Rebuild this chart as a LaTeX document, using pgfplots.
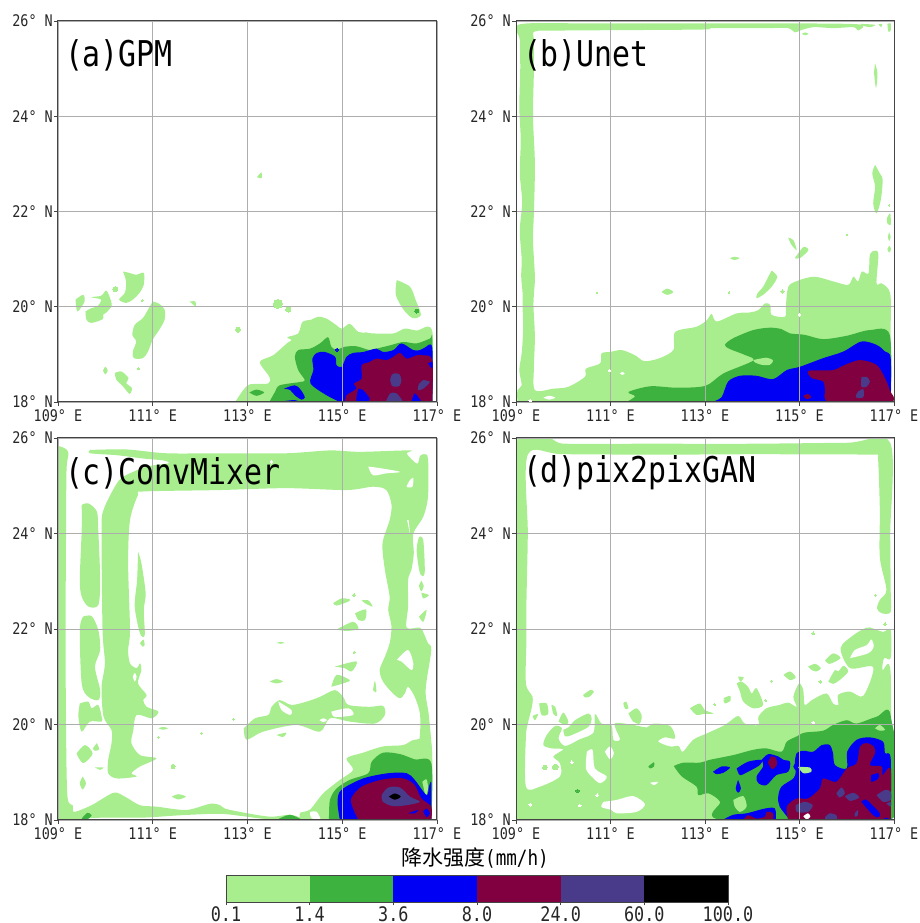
\documentclass[border=0pt]{standalone}
\usepackage{fontspec}
\usepackage{pgfplots}
\pgfplotsset{compat=1.18}
\newfontfamily\hei[FakeStretch=0.84]{DejaVu Sans Mono}
\newfontfamily\cjk{Noto Sans CJK SC}
\definecolor{cL}{HTML}{A8EE8E}
\definecolor{cG}{HTML}{3EB23E}
\definecolor{cB}{HTML}{0000F5}
\definecolor{cM}{HTML}{800040}
\definecolor{cP}{HTML}{4A3A8A}
\definecolor{cK}{HTML}{000000}
\definecolor{sp}{HTML}{444444}
\pgfplotsset{
 pol/.style={draw=none,forget plot,mark=none,smooth,tension=0.5},
 L/.style={pol,fill=cL},G/.style={pol,fill=cG},B/.style={pol,fill=cB},
 M/.style={pol,fill=cM},P/.style={pol,fill=cP},W/.style={pol,fill=white},K/.style={pol,fill=cK},
 dL/.style={only marks,mark=*,mark size=#1,color=cL,mark options={fill=cL,draw=cL,line width=0pt},forget plot},
 dW/.style={only marks,mark=*,mark size=#1,color=white,mark options={fill=white,draw=white,line width=0pt},forget plot},
 dG/.style={only marks,mark=*,mark size=#1,color=cG,mark options={fill=cG,draw=cG,line width=0pt},forget plot},
 dB/.style={only marks,mark=*,mark size=#1,color=cB,mark options={fill=cB,draw=cB,line width=0pt},forget plot},
 mapax/.style={scale only axis,xmin=109,xmax=117,ymin=18,ymax=26,axis on top,
  xtick={109,111,113,115,117},ytick={18,20,22,24,26},
  xticklabels={109° E,111° E,113° E,115° E,117° E},
  yticklabels={18° N,20° N,22° N,24° N,26° N},
  grid=major,grid style={color=black!32,line width=0.75pt},
  axis line style={color=sp,line width=1pt},
  tick style={color=sp,line width=0.8pt},tick align=outside,major tick length=4pt,
  xtick pos=lower,ytick pos=left,
  ticklabel style={font=\hei\fontsize{16}{16}\selectfont,color=black!85,inner sep=0pt},
  xticklabel style={yshift=-3.5pt,text height=12pt,text depth=0pt},
  yticklabel style={xshift=-1pt},
  title style={at={(0.018,0.893)},anchor=west,font=\hei\fontsize{35.5}{35.5}\selectfont,inner sep=0pt},
 },
}
\begin{document}
\begin{tikzpicture}[x=1pt,y=1pt]
\useasboundingbox (0,0) rectangle (920,923);
% ================ (a)
\begin{axis}[mapax,at={(58pt,521pt)},anchor=south west,width=379pt,height=381pt,title={(a)GPM}]
\addplot[L] coordinates {(111.0,20.11)(111.14,20.06)(111.25,19.94)(111.25,19.73)(111.14,19.52)(111.0,19.31)(110.90,19.06)(110.79,18.92)(110.60,18.92)(110.58,19.06)(110.65,19.27)(110.57,19.41)(110.62,19.62)(110.79,19.76)(110.90,19.94)(111.0,20.11)};
\addplot[L] coordinates {(110.37,20.74)(110.51,20.71)(110.65,20.67)(110.81,20.71)(110.81,20.46)(110.72,20.29)(110.58,20.15)(110.44,20.08)(110.29,20.15)(110.41,20.29)(110.44,20.50)(110.41,20.64)(110.37,20.74)};
\addplot[L] coordinates {(109.58,19.90)(109.70,19.97)(109.83,20.01)(109.91,20.15)(109.70,20.20)(109.91,20.23)(110.02,20.34)(110.11,20.15)(110.13,20.01)(110.02,19.88)(109.95,19.83)(109.95,19.74)(109.70,19.66)(109.60,19.73)(109.58,19.90)};
\addplot[L] coordinates {(109.37,20.15)(109.53,20.25)(109.56,20.11)(109.41,19.90)(109.37,20.15)};
\addplot[L] coordinates {(111.78,20.11)(111.90,20.11)(111.90,20.01)(111.78,20.11)};
\addplot[L] coordinates {(113.20,22.72)(113.29,22.82)(113.30,22.70)(113.20,22.72)};
\addplot[L] coordinates {(110.20,18.61)(110.34,18.64)(110.49,18.50)(110.44,18.40)(110.56,18.29)(110.51,18.17)(110.37,18.33)(110.23,18.47)(110.20,18.61)};
\addplot[L] coordinates {(109.95,18.66)(110.0,18.74)(110.05,18.66)(110.0,18.58)(109.95,18.66)};
\addplot[dL=2.5pt] coordinates {(110.21,20.37)};
\addplot[dL=1pt] coordinates {(110.78,20.13)(110.70,18.70)};
\addplot[dL=2.5pt] coordinates {(112.80,19.52)};
\addplot[dL=4.5pt] coordinates {(113.64,20.06)};
\addplot[dL=2.5pt] coordinates {(113.86,19.94)};
\addplot[L] coordinates {(116.15,20.56)(116.43,20.42)(116.55,20.14)(116.66,19.83)(116.49,19.76)(116.30,19.93)(116.13,20.25)(116.15,20.56)};
\addplot[dG=2pt] coordinates {(116.57,19.91)};
\addplot[L] coordinates {(112.74,18.0)(112.91,18.25)(113.05,18.37)(113.44,18.39)(113.46,18.53)(113.26,18.84)(113.54,18.98)(113.83,19.23)(113.93,19.30)(113.84,19.36)(114.07,19.44)(114.16,19.68)(114.35,19.73)(114.49,19.79)(114.67,19.75)(114.88,19.61)(114.99,19.54)(115.16,19.64)(115.34,19.47)(115.51,19.46)(115.65,19.44)(116.08,19.44)(116.32,19.54)(116.57,19.50)(116.90,19.49)(116.90,18.0)};
\addplot[G] coordinates {(113.46,18.0)(113.58,18.21)(113.68,18.35)(114.11,18.42)(114.21,18.46)(114.07,18.67)(114.00,18.95)(114.07,19.09)(114.32,19.12)(114.53,19.23)(114.70,19.36)(114.77,19.16)(114.88,19.10)(115.06,19.16)(115.30,19.17)(115.58,19.09)(115.72,19.12)(116.01,19.19)(116.29,19.26)(116.57,19.23)(116.85,19.33)(116.90,19.33)(116.90,18.0)};
\addplot[G] coordinates {(113.04,18.20)(113.19,18.26)(113.35,18.20)(113.19,18.13)(113.04,18.20)};
\addplot[B] coordinates {(114.95,18)(114.67,18.14)(114.33,18.39)(114.39,18.67)(114.37,18.91)(114.46,19.03)(114.63,19.05)(114.85,18.95)(114.88,18.77)(114.99,18.74)(115.09,18.95)(115.23,19.03)(115.44,19.05)(115.72,19.12)(115.86,19.05)(116.08,19.09)(116.25,19.23)(116.50,19.09)(116.64,19.09)(116.74,19.14)(116.90,19.14)(116.90,18)};
\addplot[B] coordinates {(113.77,18.28)(114.0,18.35)(114.12,18.26)(114.21,18.10)(114.14,18.05)(114.0,18.14)(113.90,18.25)(113.77,18.28)};
\addplot[B] coordinates {(113.79,18.0)(113.79,18.02)(114.0,18.04)(114.11,18.0)};
\addplot[dB=1.5pt] coordinates {(114.89,19.10)};
\addplot[M] coordinates {(115.06,18)(115.09,18.14)(115.30,18.28)(115.25,18.39)(115.41,18.49)(115.41,18.77)(115.58,18.84)(115.72,18.91)(115.94,18.88)(116.08,18.95)(116.22,19.03)(116.36,18.91)(116.57,18.98)(116.71,18.98)(116.90,18.88)(116.90,18)};
\addplot[B] coordinates {(115.34,18.28)(115.44,18.25)(115.58,18.07)(115.51,18)(115.30,18)(115.34,18.28)};
\addplot[B] coordinates {(116.46,18)(116.53,18.18)(116.65,18.04)(116.67,18)};
\addplot[B] coordinates {(116.81,18.81)(116.90,18.84)(116.90,18.70)(116.81,18.81)};
\addplot[P] coordinates {(116.01,18.46)(116.05,18.58)(116.13,18.60)(116.21,18.58)(116.25,18.46)(116.21,18.34)(116.13,18.32)(116.05,18.34)(116.01,18.46)};
\addplot[P] coordinates {(116.71,18.46)(116.85,18.42)(116.71,18.28)(116.60,18.25)(116.62,18.38)(116.71,18.46)};
\addplot[P] coordinates {(115.92,18)(116.01,18.18)(116.15,18.18)(116.29,18)};
\end{axis}
% ================ (b)
\begin{axis}[mapax,at={(516pt,521pt)},anchor=south west,width=378pt,height=381pt,title={(b)Unet}]
\addplot[L] coordinates {(109.03,18.0)(109.03,18.25)(109.12,18.35)(109.07,18.67)(109.12,19.02)(109.15,19.51)(109.14,20.0)(109.14,20.28)(109.11,20.63)(109.12,21)(109.08,21.6)(109.13,22.2)(109.08,22.8)(109.10,23.5)(109.07,24.2)(109.09,25)(109.08,25.6)(109.08,25.93)(110.5,25.95)(112.5,25.95)(114.5,25.95)(116.25,25.93)(116.24,25.80)(116.14,25.87)(115.72,25.85)(115.29,25.87)(115.01,25.80)(114.90,25.76)(114.76,25.85)(114.30,25.85)(113.60,25.85)(113.10,25.85)(112.89,25.82)(110,25.80)(109.4,25.78)(109.38,25.6)(109.38,25)(109.36,24)(109.4,23)(109.38,22)(109.36,21.4)(109.40,20.63)(109.38,20.28)(109.37,20.0)(109.40,19.37)(109.38,18.74)(109.40,18.25)(109.79,18.28)(110.11,18.32)(110.46,18.53)(110.48,18.70)(110.78,18.81)(110.81,19.02)(110.99,19.05)(111.24,19.09)(111.52,18.98)(111.71,18.86)(112.01,18.91)(112.33,19.09)(112.37,19.47)(112.82,19.58)(113.04,19.72)(113.14,19.85)(113.25,19.69)(113.67,19.86)(113.95,19.88)(114.13,19.93)(114.27,20.07)(114.38,20.04)(114.41,19.83)(114.69,19.79)(114.71,19.97)(114.74,20.32)(114.83,20.49)(115.29,20.63)(115.72,20.53)(116.03,20.46)(116.14,20.63)(116.24,20.53)(116.32,20.74)(116.46,20.70)(116.49,21.09)(116.60,21.18)(116.67,21.09)(116.63,20.49)(116.74,20.49)(116.92,20.28)(116.93,19.51)(116.93,18.0)};
\addplot[W] coordinates {(111.2,18.6)(111.25,18.63)(111.3,18.6)(111.25,18.57)(111.2,18.6)};
\addplot[W] coordinates {(109.58,18.09)(109.7,18.13)(109.83,18.09)(109.7,18.05)(109.58,18.09)};
\addplot[dW=1.3pt] coordinates {(115.0,19.83)(109.3,18.03)(110.98,18.66)};
\addplot[L] coordinates {(116.60,25.11)(116.65,24.90)(116.62,24.59)(116.58,24.90)(116.60,25.11)};
\addplot[L] coordinates {(116.60,22.98)(116.70,22.80)(116.76,22.66)(116.72,22.24)(116.63,21.96)(116.56,22.17)(116.60,22.52)(116.54,22.80)(116.60,22.98)};
\addplot[L] coordinates {(116.85,21.86)(116.92,21.96)(116.93,21.72)(116.86,21.75)(116.85,21.86)};
\addplot[L] coordinates {(116.90,21.56)(116.93,21.47)(116.90,21.38)(116.87,21.47)(116.90,21.56)};
\addplot[L] coordinates {(116.90,21.28)(116.94,21.21)(116.90,21.14)(116.86,21.21)(116.90,21.28)};
\addplot[L] coordinates {(114.76,21.45)(114.87,21.40)(114.94,21.19)(114.83,21.30)(114.76,21.45)};
\addplot[L] coordinates {(114.90,21.02)(115.08,21.25)(115.19,21.19)(115.01,21.02)(114.90,21.02)};
\addplot[L] coordinates {(113.53,21.02)(113.62,21.05)(113.73,21.02)(113.62,20.98)(113.53,21.02)};
\addplot[L] coordinates {(114.41,20.76)(114.53,20.63)(114.41,20.42)(114.23,20.25)(114.09,20.18)(114.11,20.28)(114.23,20.42)(114.34,20.63)(114.41,20.76)};
\addplot[dL=1.8pt] coordinates {(114.64,20.32)};
\addplot[dL=0.7pt] coordinates {(116.0,21.51)(116.90,22.13)(110.72,20.29)(113.51,20.3)};
\addplot[L] coordinates {(116.28,25.94)(116.60,25.92)(116.49,25.87)(116.35,25.90)(116.28,25.94)};
\addplot[L] coordinates {(116.67,25.93)(116.75,25.94)(116.73,25.87)(116.67,25.93)};
\addplot[L] coordinates {(116.86,25.94)(116.93,25.95)(116.93,25.80)(116.88,25.78)(116.86,25.94)};
\addplot[L] coordinates {(115.05,25.73)(115.12,25.76)(115.19,25.73)(115.12,25.70)(115.05,25.73)};
\addplot[L] coordinates {(112.08,20.31)(112.2,20.38)(112.33,20.31)(112.2,20.25)(112.08,20.31)};
\addplot[G] coordinates {(111.34,18.0)(111.52,18.12)(111.38,18.21)(111.84,18.33)(112.40,18.30)(113.01,18.34)(113.39,18.60)(114.02,18.87)(113.84,18.99)(113.53,19.11)(113.42,19.2)(113.60,19.34)(114.02,19.51)(114.37,19.56)(114.62,19.53)(114.80,19.44)(115.11,19.41)(115.50,19.32)(116.0,19.39)(116.49,19.51)(116.91,19.41)(116.93,18)};
\addplot[L] coordinates {(114.02,18.88)(114.30,18.93)(114.44,18.87)(114.37,18.78)(114.20,18.78)(114.06,18.83)(114.02,18.88)};
\addplot[B] coordinates {(113.14,18)(113.35,18.10)(113.49,18.43)(113.74,18.55)(114.09,18.55)(114.44,18.48)(114.73,18.67)(115.01,18.74)(115.50,18.92)(115.93,19.06)(116.31,19.27)(116.63,19.20)(116.81,19.06)(116.93,18.92)(116.93,18)};
\addplot[M] coordinates {(115.18,18.60)(115.22,18.66)(115.71,18.67)(115.96,18.78)(116.28,18.88)(116.63,18.78)(116.81,18.50)(116.91,18.25)(116.93,18.0)(115.64,18.0)(115.54,18.25)(115.50,18.43)(115.26,18.50)(115.18,18.60)};
\addplot[M] coordinates {(115.08,18.13)(115.18,18.17)(115.25,18.10)(115.15,18.06)(115.08,18.13)};
\addplot[P] coordinates {(116.31,18.52)(116.42,18.53)(116.49,18.43)(116.42,18.32)(116.31,18.32)(116.31,18.52)};
\addplot[P] coordinates {(116.24,18.22)(116.35,18.27)(116.35,18.10)(116.19,18.10)(116.24,18.22)};
\end{axis}
% ================ (c)
\begin{axis}[mapax,at={(58pt,103pt)},anchor=south west,width=379pt,height=382pt,title={(c)ConvMixer}]
\addplot[L] coordinates {(109.02,25.83)(109.15,25.78)(109.22,25.68)(109.18,25.33)(109.17,24.07)(109.16,21.98)(109.17,19.88)(109.20,18.49)(109.31,18.31)(109.34,18.17)(109.71,18.31)(110.17,18.57)(110.41,18.49)(110.73,18.31)(111.08,18.28)(111.71,18.21)(112.21,18.34)(112.42,18.31)(112.52,18.24)(112.84,18.17)(113.47,18.07)(113.89,18.11)(114.14,18.04)(114.18,18.0)(113.4,18.02)(112.9,18.08)(112.4,18.13)(111.6,18.1)(110.8,18.05)(110,18.05)(109.5,18.03)(109.4,18)(109.02,18)};
\addplot[L] coordinates {(109.68,25.75)(110.45,25.76)(111.29,25.68)(112.42,25.68)(113.82,25.68)(114.74,25.74)(115.37,25.71)(116.43,25.74)(116.36,25.67)(116.58,25.46)(116.64,25.62)(116.72,25.66)(116.81,25.57)(116.81,24.77)(116.71,24.35)(116.50,24.0)(116.51,23.58)(116.46,23.24)(116.39,23.03)(116.39,22.47)(116.36,22.03)(116.64,22.03)(116.72,21.91)(116.81,21.70)(116.88,21.56)(116.76,20.72)(116.83,20.17)(116.89,19.19)(116.57,19.19)(116.64,19.78)(116.64,20.23)(116.53,20.58)(116.39,20.79)(116.32,20.65)(116.22,20.55)(116.07,20.65)(115.86,20.90)(115.79,21.14)(115.90,21.42)(116.0,21.70)(116.04,22.05)(115.97,22.40)(116.0,22.68)(115.90,23.24)(115.85,23.79)(116.0,24.28)(116.04,24.60)(115.93,24.91)(115.65,24.98)(115.09,24.91)(113.82,24.95)(112.42,24.91)(110.80,24.88)(110.69,24.81)(110.52,24.28)(110.48,23.38)(110.52,21.98)(110.48,21.56)(110.52,21.28)(110.66,21.18)(110.73,21.28)(110.76,21.14)(110.69,20.86)(110.87,20.62)(110.80,20.51)(110.87,20.37)(111.12,20.27)(110.98,20.13)(110.66,20.20)(110.59,19.88)(110.55,19.61)(110.73,19.36)(111.08,19.29)(110.73,19.12)(110.55,18.98)(110.66,18.91)(110.24,18.87)(110.06,18.98)(110.06,19.26)(110.13,19.61)(110.13,19.88)(109.96,20.17)(109.92,20.79)(109.99,21.28)(109.94,21.98)(109.92,24.07)(109.96,24.49)(110.20,24.98)(110.38,25.19)(110.87,25.40)(111.33,25.47)(111.22,25.53)(110.80,25.57)(110.24,25.64)(109.68,25.68)(109.68,25.75)};
\addplot[W] coordinates {(115.55,25.40)(115.79,25.37)(116.22,25.29)(115.93,25.26)(115.65,25.22)(115.55,25.40)};
\addplot[W] coordinates {(116.43,25.12)(116.50,25.16)(116.48,24.98)(116.36,24.98)(116.43,25.12)};
\addplot[W] coordinates {(116.15,21.35)(116.39,21.56)(116.50,21.28)(116.46,21.14)(116.25,21.32)(116.15,21.35)};
\addplot[W] coordinates {(116.37,24.28)(116.43,24.0)(116.40,24.28)};
\addplot[W] coordinates {(110.58,21.0)(110.62,21.08)(110.66,21.0)(110.62,20.9)(110.58,21.0)};
\addplot[dW=1.3pt] coordinates {(113.51,25.5)};
\addplot[L] coordinates {(109.50,24.60)(109.64,24.63)(109.82,24.46)(109.85,24.07)(109.89,23.03)(109.85,22.50)(109.64,22.47)(109.50,22.68)(109.46,23.03)(109.50,24.07)(109.50,24.60)};
\addplot[L] coordinates {(109.53,22.26)(109.71,22.27)(109.85,21.98)(109.89,21.56)(109.78,21.21)(109.89,20.72)(109.85,20.51)(109.64,20.58)(109.50,20.86)(109.46,21.98)(109.53,22.26)};
\addplot[L] coordinates {(109.46,20.44)(109.64,20.48)(109.71,20.34)(109.85,20.41)(109.92,20.17)(109.92,20.06)(109.67,20.06)(109.50,19.85)(109.43,20.17)(109.46,20.44)};
\addplot[L] coordinates {(109.39,19.39)(109.57,19.57)(109.73,19.39)(109.53,19.19)(109.39,19.39)};
\addplot[L] coordinates {(109.82,19.61)(109.87,19.48)(109.78,19.45)(109.74,19.50)(109.82,19.61)};
\addplot[L] coordinates {(109.52,18.91)(109.59,18.77)(109.52,18.64)(109.46,18.77)(109.52,18.91)};
\addplot[L] coordinates {(109.78,19.10)(109.96,19.10)(109.89,19.05)(109.78,19.10)};
\addplot[L] coordinates {(110.69,23.62)(110.76,23.38)(110.85,22.75)(110.81,22.40)(110.83,21.87)(110.73,21.91)(110.62,22.47)(110.67,23.03)(110.69,23.62)};
\addplot[L] coordinates {(110.73,21.70)(110.80,21.78)(110.83,21.67)(110.79,21.63)(110.73,21.70)};
\addplot[L] coordinates {(111.12,19.92)(111.22,19.95)(111.32,19.92)(111.22,19.89)(111.12,19.92)};
\addplot[dL=0.8pt] coordinates {(112.03,19.81)(111.12,19.73)};
\addplot[dL=2pt] coordinates {(111.43,19.12)};
\addplot[L] coordinates {(111.40,18.49)(111.54,18.54)(111.70,18.49)(111.54,18.43)(111.40,18.49)};
\addplot[L] coordinates {(116.62,23.93)(116.71,23.86)(116.74,23.17)(116.64,23.17)(116.57,23.65)(116.62,23.93)};
\addplot[L] coordinates {(116.67,23.01)(116.72,22.9)(116.67,22.79)(116.62,22.9)(116.67,23.01)};
\addplot[L] coordinates {(116.67,22.76)(116.83,22.71)(116.71,22.64)(116.67,22.76)};
\addplot[L] coordinates {(116.62,22.26)(116.78,22.40)(116.71,22.15)(116.62,22.26)};
\addplot[L] coordinates {(114.81,22.54)(114.98,22.64)(115.16,22.62)(115.12,22.57)(114.88,22.49)(114.81,22.54)};
\addplot[dL=1.5pt] coordinates {(115.25,22.71)};
\addplot[L] coordinates {(115.41,22.60)(115.55,22.60)(115.64,22.47)(115.48,22.54)(115.41,22.60)};
\addplot[L] coordinates {(115.27,22.33)(115.50,22.41)(115.48,22.19)(115.34,22.19)(115.27,22.33)};
\addplot[L] coordinates {(114.88,21.99)(115.23,22.15)(115.34,22.0)(115.09,21.96)(114.88,21.99)};
\addplot[L] coordinates {(113.62,21.71)(113.7,21.73)(113.78,21.71)(113.7,21.69)(113.62,21.71)};
\addplot[dL=1pt] coordinates {(115.25,21.51)(112.70,20.11)};
\addplot[L] coordinates {(114.84,21.21)(115.30,21.32)(115.20,21.11)(115.05,21.18)(114.84,21.21)};
\addplot[L] coordinates {(114.77,20.79)(114.88,21.04)(115.16,20.93)(115.02,20.86)(114.77,20.79)};
\addplot[L] coordinates {(113.47,20.90)(113.61,20.95)(113.75,20.90)(113.61,20.86)(113.47,20.90)};
\addplot[L] coordinates {(115.65,20.72)(115.69,20.92)(115.72,20.68)(115.65,20.72)};
\addplot[L] coordinates {(112.92,19.92)(113.16,20.13)(113.44,20.20)(113.51,20.37)(113.68,20.51)(113.93,20.41)(114.25,20.48)(114.53,20.58)(114.84,20.72)(115.02,20.58)(115.13,20.41)(115.58,20.37)(115.86,20.39)(115.90,20.20)(115.69,20.02)(115.16,20.06)(114.74,20.13)(114.53,19.85)(114.03,19.99)(113.33,19.85)(112.98,19.68)(112.92,19.92)};
\addplot[W] coordinates {(114.77,20.27)(115.13,20.34)(115.23,20.20)(114.84,20.16)(114.77,20.27)};
\addplot[W] coordinates {(113.65,20.48)(113.93,20.30)(113.90,20.20)(113.72,20.30)(113.65,20.48)};
\addplot[W] coordinates {(114.52,20.09)(114.6,20.13)(114.68,20.09)(114.6,20.05)(114.52,20.09)};
\addplot[L] coordinates {(113.61,19.78)(113.82,19.83)(113.75,19.74)(113.61,19.78)};
\addplot[L] coordinates {(114.11,18.01)(114.11,18.15)(114.32,18.22)(114.60,18.56)(114.95,18.84)(115.23,19.05)(115.09,19.29)(115.44,19.41)(115.86,19.54)(116.29,19.57)(116.53,19.68)(116.88,19.57)(116.88,18.0)};
\addplot[W] coordinates {(114.32,18.17)(114.46,18.17)(114.54,18.0)(114.35,18.04)(114.32,18.17)};
\addplot[G] coordinates {(109.50,18.03)(109.62,18.15)(109.71,18.10)(109.62,18.01)(109.50,18.0)};
\addplot[G] coordinates {(113.61,18.0)(113.89,18.11)(114.14,18.01)};
\addplot[G] coordinates {(114.72,18.0)(114.74,18.42)(114.88,18.66)(115.16,18.84)(115.55,18.98)(115.62,19.22)(115.86,19.41)(116.22,19.38)(116.53,19.27)(116.88,19.19)(116.88,18.)};
\addplot[L] coordinates {(116.69,18.80)(116.78,18.85)(116.81,18.66)(116.76,18.52)(116.69,18.80)};
\addplot[B] coordinates {(114.95,18)(114.90,18.38)(114.98,18.63)(115.44,18.87)(115.97,18.98)(116.36,18.98)(116.53,18.84)(116.78,18.52)(116.83,18.70)(116.88,18.77)(116.88,18)};
\addplot[M] coordinates {(115.34,18)(115.23,18.24)(115.19,18.45)(115.41,18.70)(115.86,18.85)(116.29,18.87)(116.53,18.73)(116.67,18.45)(116.88,18.28)(116.88,18)};
\addplot[B] coordinates {(116.39,18.14)(116.60,18.21)(116.53,18.14)(116.39,18.14)};
\addplot[B] coordinates {(116.71,18.18)(116.78,18.24)(116.85,18.14)(116.78,18.06)(116.71,18.18)};
\addplot[P] coordinates {(115.83,18.52)(115.97,18.68)(116.22,18.68)(116.43,18.49)(116.64,18.38)(116.36,18.31)(116.07,18.29)(115.86,18.38)(115.83,18.52)};
\addplot[K] coordinates {(115.985,18.49)(116.11,18.555)(116.235,18.49)(116.11,18.425)(115.985,18.49)};
\end{axis}
% ================ (d)
\begin{axis}[mapax,at={(516pt,103pt)},anchor=south west,width=378pt,height=382pt,title={(d)pix2pixGAN}]
\addplot[L] coordinates {(109.02,18)(109.02,25.9)(110,25.88)(112,25.88)(114,25.88)(116,25.9)(116.92,25.9)(116.92,24)(116.93,22.82)(116.93,22.36)(116.74,22.33)(116.64,22.43)(116.70,22.61)(116.84,22.82)(116.70,23.5)(116.7,24.5)(116.66,25.6)(116.6,25.65)(114,25.66)(112,25.65)(110,25.66)(109.25,25.65)(109.25,24)(109.22,22.5)(109.22,21.77)(109.21,20.86)(109.35,20.58)(109.33,20.34)(109.26,20.06)(109.21,19.75)(109.21,18.70)(109.51,18.70)(109.93,18.91)(109.93,19.19)(109.79,19.33)(110.0,19.48)(109.75,19.50)(109.58,19.57)(109.65,19.78)(109.83,19.97)(109.97,19.92)(109.90,19.71)(110.04,19.55)(110.35,19.69)(110.64,19.83)(110.67,20.22)(110.81,20.02)(111.02,19.99)(111.06,19.68)(111.20,19.69)(111.09,20.02)(111.48,19.99)(111.77,19.94)(111.91,20.02)(112.26,19.97)(112.37,19.71)(112.15,19.73)(112.01,19.64)(112.26,19.54)(112.44,19.55)(112.53,19.43)(112.75,19.68)(113.03,19.81)(113.42,19.99)(113.70,20.18)(113.84,20.02)(114.13,19.99)(114.13,20.16)(114.30,20.34)(114.58,20.41)(114.76,20.46)(114.94,20.37)(114.87,20.58)(114.99,20.86)(115.08,20.72)(115.11,20.41)(115.26,20.51)(115.57,20.65)(115.71,20.44)(115.82,20.41)(115.82,20.62)(116.07,20.69)(116.35,20.60)(116.56,21.20)(116.07,21.18)(115.87,21.60)(116.14,21.87)(116.42,22.03)(116.56,22.01)(116.77,21.94)(116.93,21.98)(116.93,21.39)(116.79,21.39)(116.76,21.14)(116.93,21.07)(116.93,18)};
\addplot[W] coordinates {(116.07,21.39)(116.17,21.56)(116.42,21.66)(116.52,21.78)(116.57,21.63)(116.45,21.49)(116.07,21.39)};
\addplot[W] coordinates {(110.85,18.38)(111.13,18.42)(111.48,18.50)(111.73,18.33)(111.55,18.17)(111.13,18.14)(111.02,18.21)(110.81,18.27)(110.85,18.38)};
\addplot[W] coordinates {(110.50,19.43)(110.62,19.47)(110.67,19.08)(110.92,18.91)(110.78,18.77)(110.60,18.91)(110.48,19.08)(110.50,19.43)};
\addplot[W] coordinates {(110.88,19.43)(110.99,19.54)(111.07,19.40)(110.99,19.27)(110.88,19.43)};
\addplot[W] coordinates {(111.84,18.78)(112.01,18.80)(111.92,18.73)(111.84,18.78)};
\addplot[dW=1.3pt] coordinates {(110.35,18.3)(110.72,18.52)(110.18,19.21)(109.30,18.32)(115.29,20.04)};
\addplot[L] coordinates {(109.49,20.44)(109.65,20.44)(109.68,20.22)(109.54,20.20)(109.49,20.44)};
\addplot[L] coordinates {(109.75,20.41)(109.83,20.37)(109.87,20.18)(109.79,20.22)(109.75,20.41)};
\addplot[L] coordinates {(109.35,20.18)(109.47,20.22)(109.40,20.09)(109.35,20.18)};
\addplot[L] coordinates {(109.90,20.06)(110.0,20.25)(110.11,20.06)(110.04,19.99)(109.90,20.06)};
\addplot[L] coordinates {(110.0,19.89)(110.11,19.94)(110.25,20.09)(110.53,20.23)(110.60,20.13)(110.53,19.95)(110.18,19.78)(110.04,19.75)(110.0,19.89)};
\addplot[L] coordinates {(110.42,20.62)(110.57,20.72)(110.65,20.69)(110.55,20.58)(110.46,20.57)(110.42,20.62)};
\addplot[L] coordinates {(111.27,20.44)(111.33,20.48)(111.38,20.34)(111.31,20.33)(111.27,20.44)};
\addplot[L] coordinates {(111.38,20.23)(111.55,20.34)(111.66,20.19)(111.62,20.02)(111.48,20.06)(111.38,20.23)};
\addplot[L] coordinates {(112.68,20.34)(112.89,20.44)(113.0,20.30)(113.18,20.23)(112.96,20.22)(112.82,20.20)(112.68,20.34)};
\addplot[L] coordinates {(113.39,20.55)(113.53,20.60)(113.53,20.48)(113.39,20.55)};
\addplot[dL=2.2pt] coordinates {(109.61,19.10)};
\addplot[dL=2.8pt] coordinates {(109.83,19.11)};
\addplot[L] coordinates {(113.39,20.51)(113.53,20.60)(113.51,20.48)(113.42,20.44)(113.39,20.51)};
\addplot[L] coordinates {(113.67,20.86)(113.77,20.90)(113.91,20.79)(113.99,20.65)(114.09,20.76)(114.23,20.41)(114.02,20.34)(113.81,20.48)(113.74,20.69)(113.67,20.86)};
\addplot[L] coordinates {(113.70,21.0)(113.82,20.99)(113.75,20.90)(113.70,21.0)};
\addplot[L] coordinates {(114.66,21.04)(114.80,21.11)(114.92,20.99)(114.80,20.93)(114.66,21.04)};
\addplot[L] coordinates {(115.18,21.21)(115.33,21.27)(115.45,21.18)(115.36,21.11)(115.26,21.14)(115.18,21.21)};
\addplot[L] coordinates {(115.54,21.34)(115.71,21.49)(115.87,21.39)(115.64,21.27)(115.54,21.34)};
\addplot[dL=1.5pt] coordinates {(115.44,20.90)(116.81,22.10)(115.29,21.91)};
\addplot[dL=1pt] coordinates {(116.61,22.71)(114.41,20.91)(114.29,20.50)(113.21,20.41)};
\addplot[L] coordinates {(115.61,20.90)(115.75,21.14)(115.82,21.11)(115.93,21.23)(116.03,21.11)(115.85,20.93)(115.71,20.85)(115.61,20.90)};
\addplot[G] coordinates {(111.80,19.12)(111.92,19.21)(111.92,19.12)(111.84,19.08)(111.80,19.12)};
\addplot[dG=1.7pt] coordinates {(110.30,18.61)};
\addplot[G] coordinates {(112.34,19.13)(112.54,19.20)(112.89,19.20)(113.10,19.26)(113.60,19.36)(114.02,19.47)(114.30,19.50)(114.62,19.43)(114.73,19.64)(114.94,19.75)(115.11,19.83)(115.50,19.87)(115.71,19.99)(116.0,20.09)(116.21,20.02)(116.63,20.16)(116.93,20.18)(116.93,18)(113.37,18)(113.32,18.38)(113.07,18.56)(112.86,18.52)(112.82,18.70)(112.51,18.91)(112.34,19.13)};
\addplot[L] coordinates {(113.60,18.42)(113.81,18.50)(113.88,18.28)(113.74,18.17)(113.63,18.28)(113.60,18.42)};
\addplot[L] coordinates {(116.60,19.92)(116.70,19.99)(116.81,19.89)(116.70,19.87)(116.60,19.92)};
\addplot[B] coordinates {(113.17,19.01)(113.35,19.12)(113.53,19.10)(113.39,18.99)(113.24,18.96)(113.17,19.01)};
\addplot[B] coordinates {(113.67,19.08)(113.91,19.22)(114.20,19.26)(114.16,19.15)(113.91,19.01)(113.74,18.94)(113.67,19.08)};
\addplot[B] coordinates {(114.20,19.26)(114.34,19.38)(114.55,19.33)(114.66,19.26)(114.80,19.22)(114.76,19.01)(114.51,18.94)(114.30,18.73)(114.13,18.77)(114.09,18.91)(114.23,19.12)(114.20,19.26)};
\addplot[B] coordinates {(113.70,18.84)(113.76,18.66)(113.70,18.57)(113.65,18.66)(113.70,18.84)};
\addplot[B] coordinates {(114.87,19.12)(114.92,19.2)(114.97,19.12)(114.92,19.04)(114.87,19.12)};
\addplot[B] coordinates {(114.80,18.0)(114.58,18.28)(114.55,18.49)(114.62,18.70)(114.87,18.87)(114.92,19.01)(114.90,19.19)(114.94,19.40)(115.08,19.45)(115.29,19.43)(115.47,19.57)(115.64,19.57)(115.71,19.40)(115.75,19.15)(116.0,19.08)(116.01,19.43)(116.21,19.68)(116.49,19.73)(116.77,19.64)(116.81,19.40)(116.93,19.29)(116.93,18)};
\addplot[B] coordinates {(113.39,18.01)(113.60,18.11)(113.88,18.14)(114.27,18.24)(114.48,18.24)(114.50,18.0)};
\addplot[M] coordinates {(113.81,18)(113.91,18.10)(114.09,18.03)(114.27,18.07)(114.30,18.17)(114.44,18.14)(114.44,18)};
\addplot[L] coordinates {(114.97,19.11)(115.22,19.10)(115.25,19.01)(115.08,18.98)(114.97,19.11)};
\addplot[M] coordinates {(114.76,18)(114.73,18.28)(114.94,18.45)(115.18,18.45)(115.43,18.66)(115.50,18.87)(115.78,18.80)(116.0,19.08)(116.21,19.19)(116.28,19.54)(116.42,19.61)(116.57,19.54)(116.60,19.40)(116.49,19.15)(116.74,19.12)(116.76,18.94)(116.93,19.06)(116.93,18)};
\addplot[M] coordinates {(114.33,19.20)(114.40,19.33)(114.50,19.30)(114.52,19.15)(114.42,19.07)(114.33,19.20)};
\addplot[B] coordinates {(116.31,18.38)(116.42,18.42)(116.70,18.14)(116.67,18.06)(116.56,18.10)(116.31,18.38)};
\addplot[B] coordinates {(116.52,18.94)(116.67,18.98)(116.67,18.87)(116.52,18.80)(116.52,18.94)};
\addplot[B] coordinates {(116.74,18)(116.84,18.05)(116.93,18)};
\addplot[P] coordinates {(115.78,18.56)(115.89,18.68)(115.96,18.56)(115.85,18.47)(115.78,18.56)};
\addplot[P] coordinates {(115.96,18.50)(116.14,18.57)(116.26,18.47)(116.07,18.40)(115.96,18.50)};
\addplot[P] coordinates {(116.63,18.52)(116.81,18.63)(116.93,18.59)(116.93,18.42)(116.77,18.38)(116.63,18.52)};
\addplot[P] coordinates {(114.92,18.31)(115.11,18.38)(115.28,18.31)(115.18,18.17)(114.94,18.17)(114.92,18.31)};
\addplot[P] coordinates {(115.54,18.06)(115.64,18.14)(115.78,18.10)(115.78,18)(115.54,18)};
\addplot[P] coordinates {(116.17,18.14)(116.24,18.21)(116.23,18.09)(116.17,18.07)(116.17,18.14)};
\addplot[P] coordinates {(116.84,18.34)(116.93,18.38)(116.93,18.28)(116.84,18.34)};
\addplot[W] coordinates {(115.08,18.08)(115.18,18.14)(115.23,18.07)(115.15,18.01)(115.08,18.08)};
\end{axis}
% ================ colour bar
\begin{axis}[scale only axis,at={(226pt,21pt)},anchor=south west,width=502pt,height=27pt,
  xmin=0,xmax=6,ymin=0,ymax=1,xtick={0,1,2,3,4,5,6},ytick=\empty,axis on top,
  xticklabels={0.1,1.4,3.6,8.0,24.0,60.0,100.0},
  axis line style={color=sp,line width=0.8pt},tick style={color=sp,line width=0.8pt},
  tick align=outside,major tick length=3.5pt,xtick pos=lower,
  ticklabel style={font=\hei\fontsize{20}{20}\selectfont,color=black!85,inner sep=0pt},
  xticklabel style={yshift=-0.5pt,text height=15pt,text depth=0pt},
  title={{\cjk 降水强度}{\hei (mm/h)}},
  title style={at={(0.496,1)},anchor=center,yshift=11pt,font=\fontsize{21}{21}\selectfont,inner sep=0pt}]
\addplot[fill=cL,draw=none,forget plot] coordinates {(0,0)(1,0)(1,1)(0,1)};
\addplot[fill=cG,draw=none,forget plot] coordinates {(1,0)(2,0)(2,1)(1,1)};
\addplot[fill=cB,draw=none,forget plot] coordinates {(2,0)(3,0)(3,1)(2,1)};
\addplot[fill=cM,draw=none,forget plot] coordinates {(3,0)(4,0)(4,1)(3,1)};
\addplot[fill=cP,draw=none,forget plot] coordinates {(4,0)(5,0)(5,1)(4,1)};
\addplot[fill=cK,draw=none,forget plot] coordinates {(5,0)(6,0)(6,1)(5,1)};
\end{axis}
\end{tikzpicture}
\end{document}
